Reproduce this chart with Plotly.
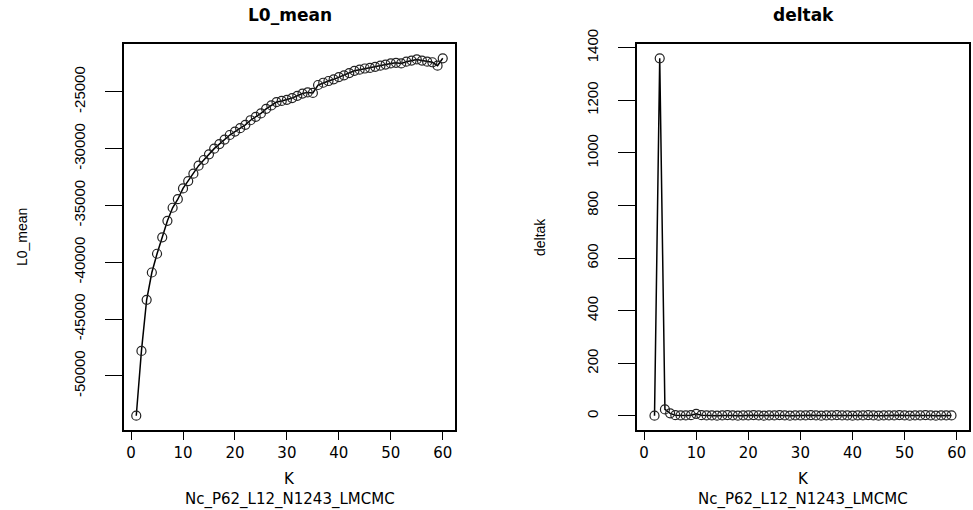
import plotly.graph_objects as go

# ---- data ----
K_L0 = list(range(1, 61))
L0_mean = [-53500, -47800, -43300, -40900, -39250, -37800, -36350, -35200, -34450, -33500,
           -32850, -32200, -31500, -31000, -30500, -30000, -29600, -29200, -28800, -28500,
           -28200, -27900, -27500, -27200, -26900, -26500, -26200, -25900, -25800, -25700,
           -25550, -25350, -25150, -25050, -25100, -24400, -24200, -24050, -23900, -23700,
           -23550, -23350, -23150, -23050, -22950, -22900, -22800, -22700, -22600, -22500,
           -22450, -22500, -22350, -22250, -22150, -22250, -22350, -22400, -22700, -22050]

K_delta = list(range(2, 60))
deltak = [1, 1360, 25, 10, 3, 2, 2, 3, 8, 3,
          2, 2, 1, 2, 3, 2, 1, 2, 2, 3,
          2, 1, 2, 2, 3, 2, 1, 2, 2, 2,
          3, 2, 1, 2, 2, 3, 2, 2, 1, 2,
          2, 3, 2, 1, 2, 2, 2, 3, 2, 1,
          2, 2, 3, 2, 1, 2, 2, 2]

x_ticks = [0, 10, 20, 30, 40, 50, 60]
y_ticks_L0 = [-50000, -45000, -40000, -35000, -30000, -25000]
y_ticks_delta = [0, 200, 400, 600, 800, 1000, 1200, 1400]

title_left = "L0_mean"
title_right = "deltak"
xlab = "K"
sub = "Nc_P62_L12_N1243_LMCMC"

# ---- figure ----
W, H = 973, 510
fig = go.Figure()

line_style = dict(color="black", width=1.5)
marker_style = dict(symbol="circle-open", size=9, color="#222", line=dict(width=1.2))

fig.add_trace(go.Scatter(x=K_L0, y=L0_mean, mode="lines+markers", line=line_style,
                         marker=marker_style, xaxis="x", yaxis="y", showlegend=False))
fig.add_trace(go.Scatter(x=K_delta, y=deltak, mode="lines+markers", line=line_style,
                         marker=marker_style, xaxis="x2", yaxis="y2", showlegend=False))

def pad_range(vals):
    lo, hi = min(vals), max(vals)
    d = (hi - lo) * 0.04
    return [lo - d, hi + d]

xr = pad_range([1, 60])

box_l = [124 / W, 455 / W]
box_r = [637 / W, 969 / W]
ydom = [1 - 430 / H, 1 - 44 / H]

tick_font = dict(family="DejaVu Sans", size=15, color="black")
ytick_font = dict(family="Liberation Sans", size=15, color="black")

common_x = dict(range=xr, tickvals=x_ticks, ticks="outside", ticklen=8, tickwidth=1,
                tickcolor="black", showline=True, linecolor="black", linewidth=1.5,
                mirror=True, showgrid=False, zeroline=False, tickfont=tick_font,
                automargin=False)
common_y = dict(ticks="outside", ticklen=17, tickwidth=1, tickcolor="black",
                showline=True, linecolor="black", linewidth=1.5, mirror=True,
                showgrid=False, zeroline=False, tickangle=-90, tickfont=ytick_font,
                ticklabelstandoff=14, automargin=False)

fig.update_layout(
    width=W, height=H,
    margin=dict(l=0, r=0, t=0, b=0, pad=0),
    paper_bgcolor="white", plot_bgcolor="white",
    xaxis=dict(domain=box_l, anchor="y", **common_x),
    yaxis=dict(domain=ydom, anchor="x", range=pad_range(L0_mean), tickvals=y_ticks_L0,
               ticktext=[str(v) for v in y_ticks_L0], **common_y),
    xaxis2=dict(domain=box_r, anchor="y2", **common_x),
    yaxis2=dict(domain=ydom, anchor="x2", range=pad_range(deltak), tickvals=y_ticks_delta,
                **common_y),
)

title_font = dict(family="DejaVu Sans", size=17, color="black")
lab_font = dict(family="DejaVu Sans", size=15, color="black")
ylab_font = dict(family="Liberation Sans", size=14, color="black")

anns = []
for (x0, x1), t, yl, ylx in [(box_l, title_left, "L0_mean", 22 / W),
                             (box_r, title_right, "deltak", 540 / W)]:
    cx = (x0 + x1) / 2
    anns.append(dict(x=cx, y=1 - 15 / H, xref="paper", yref="paper", text="<b>" + t + "</b>",
                     showarrow=False, font=title_font, xanchor="center", yanchor="middle"))
    anns.append(dict(x=cx, y=1 - 479 / H, xref="paper", yref="paper", text=xlab,
                     showarrow=False, font=lab_font, xanchor="center", yanchor="middle"))
    anns.append(dict(x=cx, y=1 - 499 / H, xref="paper", yref="paper", text=sub,
                     showarrow=False, font=lab_font, xanchor="center", yanchor="middle"))
    anns.append(dict(x=ylx, y=1 - 237 / H, xref="paper", yref="paper", text=yl, textangle=-90,
                     showarrow=False, font=ylab_font, xanchor="center", yanchor="middle"))
fig.update_layout(annotations=anns)

fig.write_html(
    "out.html",
    config={"displayModeBar": False},
    post_script="document.body.style.margin='0';document.body.style.padding='0';"
                "document.documentElement.style.overflow='hidden';",
)
